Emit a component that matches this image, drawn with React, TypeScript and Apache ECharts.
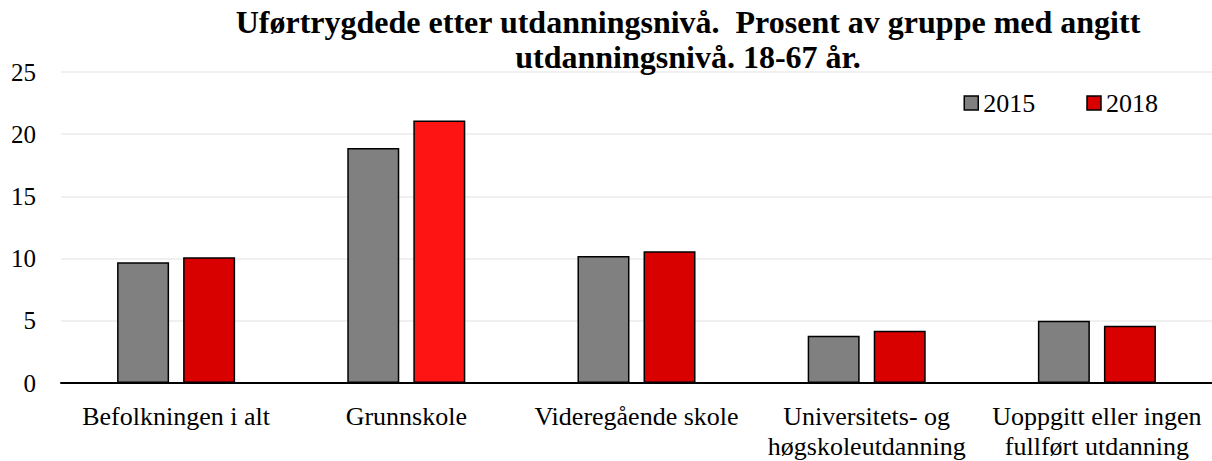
import React, { useEffect, useRef } from "react";
import * as echarts from "echarts";

const categories = [
  "Befolkningen i alt",
  "Grunnskole",
  "Videregående skole",
  "Universitets- og\nhøgskoleutdanning",
  "Uoppgitt eller ingen\nfullført utdanning",
];
const values2015 = [9.7, 18.9, 10.2, 3.8, 5.0];
const values2018 = [10.1, 21.1, 10.6, 4.2, 4.6];
const colors2018 = ["#D90000", "#FF1414", "#D90000", "#D90000", "#D90000"];
const yTicks = { min: 0, max: 25, interval: 5 };

export default function App() {
  const ref = useRef<HTMLDivElement>(null);
  useEffect(() => {
    if (!ref.current) return;
    const chart = echarts.init(ref.current, undefined, { renderer: "svg" });
    const font = "'Liberation Serif', 'Times New Roman', serif";
    chart.setOption({
      animation: false,
      textStyle: { fontFamily: font },
      title: {
        text: "Uførtrygdede etter utdanningsnivå.  Prosent av gruppe med angitt\nutdanningsnivå. 18-67 år.",
        left: 688,
        textAlign: "center",
        top: 4,
        padding: 0,
        textStyle: {
          fontFamily: font,
          fontWeight: "bold",
          fontSize: 32,
          lineHeight: 35,
          color: "#000",
        },
      },
      legend: {
        right: 54,
        top: 90,
        padding: 0,
        icon: "rect",
        itemWidth: 14,
        itemHeight: 14,
        itemGap: 51,
        textStyle: { fontFamily: font, fontSize: 26, color: "#000", padding: [0, 0, 0, 0] },
        data: [
          { name: "2015", itemStyle: { color: "#808080", borderColor: "#000", borderWidth: 1.5 } },
          { name: "2018", itemStyle: { color: "#D90000", borderColor: "#000", borderWidth: 1.5 } },
        ],
      },
      grid: { left: 61, right: 0, top: 72, bottom: 76, containLabel: false },
      xAxis: {
        type: "category",
        data: categories,
        axisLine: { lineStyle: { color: "#000", width: 2 } },
        axisTick: { show: false },
        axisLabel: {
          fontFamily: font,
          fontSize: 26,
          color: "#000",
          lineHeight: 30,
          margin: 18,
          interval: 0,
        },
      },
      yAxis: {
        type: "value",
        min: yTicks.min,
        max: yTicks.max,
        interval: yTicks.interval,
        axisLine: { show: false },
        axisTick: { show: false },
        splitLine: { lineStyle: { color: "#EBEBEB", width: 1.5 } },
        axisLabel: { fontFamily: font, fontSize: 25, color: "#000", margin: 25 },
      },
      series: [
        {
          name: "2015",
          type: "bar",
          data: values2015,
          barWidth: 52,
          barGap: "27%",
          itemStyle: { color: "#808080", borderColor: "#000", borderWidth: 1.5 },
        },
        {
          name: "2018",
          type: "bar",
          data: values2018.map((v, i) => ({ value: v, itemStyle: { color: colors2018[i] } })),
          barWidth: 52,
          itemStyle: { color: "#D90000", borderColor: "#000", borderWidth: 1.5 },
        },
      ],
    });
    return () => chart.dispose();
  }, []);
  return <div ref={ref} style={{ width: 1212, height: 461, position: "absolute", left: 0, top: 0 }} />;
}
